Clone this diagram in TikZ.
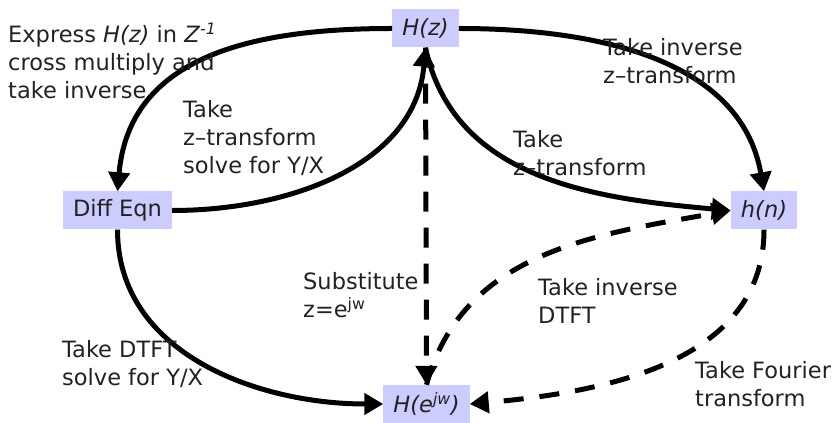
\documentclass[tikz,border=0pt]{standalone}
\usepackage{fontspec}
\setmainfont{DejaVu Sans}
\usetikzlibrary{arrows.meta}
\definecolor{boxfill}{HTML}{CCCCFF}
\definecolor{inkgray}{HTML}{222222}

\begin{document}
\begin{tikzpicture}[x=1pt,y=1pt,font=\fontsize{22.5}{28}\selectfont,>={Triangle[length=19pt,width=21pt]},
  block/.style={fill=boxfill,text=inkgray,minimum height=38pt,inner xsep=10pt,inner ysep=0pt},
  lbl/.style={anchor=north west,align=left,inner sep=0pt,text=inkgray},
  link/.style={line width=5pt,->},
  dlink/.style={link,dash pattern=on 20pt off 16pt}]
  \useasboundingbox (0,0) rectangle (838,423);
  \node[block] (Hz) at (425.5,394.5) {\textit{H(z)}};
  \node[block] (diff) at (117.5,212.5) {Diff Eqn};
  \node[block] (hn) at (764,212.5) {\textit{h(n)}};
  \node[block] (Hejw) at (426.5,19) {\textit{H(e\textsuperscript{jw})}};
  \draw[link] (Hz.west) to[out=180,in=85,looseness=1.1] (diff.north);
  \draw[link] (diff.east) to[out=0,in=-95] (Hz.south);
  \draw[link] (Hz.east) to[out=0,in=100] (hn.north);
  \draw[link] (Hz.south) to[out=-78,in=175] (hn.west);
  \draw[link] (diff.south) to[out=-90,in=180] (Hejw.west);
  \draw[dlink] (Hz.south) -- (Hejw.north);
  \draw[dlink] (Hejw.north) to[out=75,in=190] (hn.west);
  \draw[dlink] (hn.south) to[out=-90,in=5] (Hejw.east);
  \node[lbl] (lexpress) at (8,400) {Express \textit{H(z)} in \textit{Z}\textsuperscript{\textit{-1}}\\cross multiply and\\take inverse};
  \node[lbl] (lsolvez) at (183,323) {Take\\z–transform\\solve for Y/X};
  \node[lbl] (linvz) at (603,385) {Take inverse\\z–transform};
  \node[lbl] (ltakez) at (513,293) {Take\\z–transform};
  \node[lbl] (lsubst) at (303,151) {Substitute\\z=e\textsuperscript{jw}};
  \node[lbl] (linvdtft) at (538,145) {Take inverse\\DTFT};
  \node[lbl] (lfourier) at (695,62) {Take Fourier\\transform};
  \node[lbl] (ldtft) at (62,83) {Take DTFT\\solve for Y/X};
\end{tikzpicture}
\end{document}
